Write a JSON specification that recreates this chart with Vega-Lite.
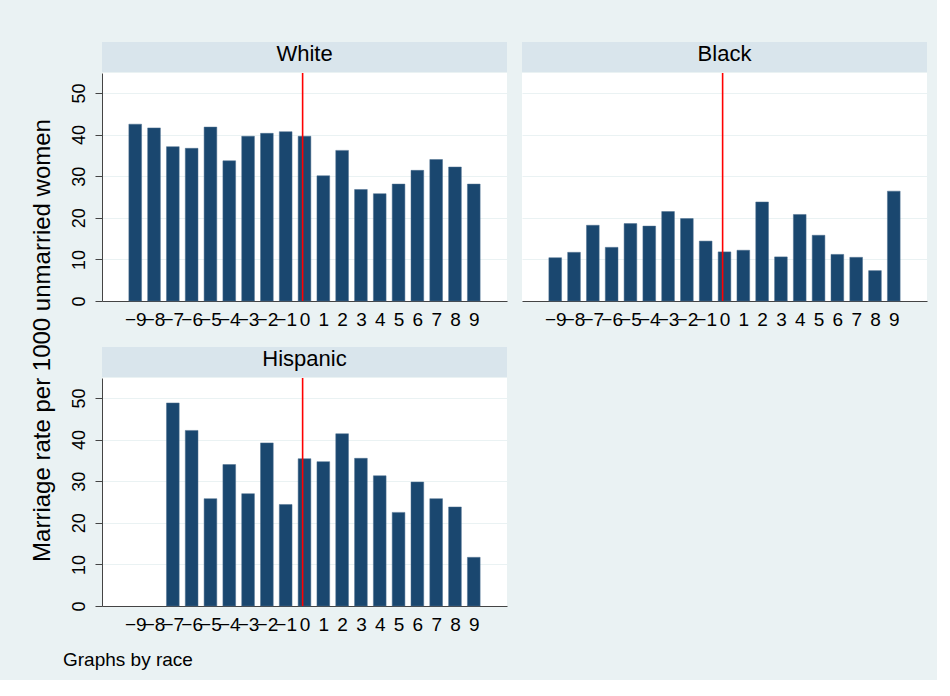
{
  "$schema": "https://vega.github.io/schema/vega-lite/v6.json",
  "background": "#eaf2f3",
  "padding": {"left": 30, "top": 42, "right": 10, "bottom": 10},
  "config": {
    "font": "Liberation Sans",
    "view": {"stroke": null},
    "concat": {"spacing": 0},
    "axis": {"labelColor": "black", "labelFont": "Liberation Sans", "labelOverlap": false},
    "axisX": {"labelOverlap": false, "labelBound": false, "labelFlush": false}
  },
  "datasets": {
    "rates": [
      {"race": "White", "t": -9, "rate": 42.5},
      {"race": "White", "t": -8, "rate": 41.6},
      {"race": "White", "t": -7, "rate": 37.1},
      {"race": "White", "t": -6, "rate": 36.7},
      {"race": "White", "t": -5, "rate": 41.8},
      {"race": "White", "t": -4, "rate": 33.7},
      {"race": "White", "t": -3, "rate": 39.6},
      {"race": "White", "t": -2, "rate": 40.3},
      {"race": "White", "t": -1, "rate": 40.7},
      {"race": "White", "t": 0, "rate": 39.6},
      {"race": "White", "t": 1, "rate": 30.1},
      {"race": "White", "t": 2, "rate": 36.2},
      {"race": "White", "t": 3, "rate": 26.8},
      {"race": "White", "t": 4, "rate": 25.8},
      {"race": "White", "t": 5, "rate": 28.1},
      {"race": "White", "t": 6, "rate": 31.4},
      {"race": "White", "t": 7, "rate": 34.0},
      {"race": "White", "t": 8, "rate": 32.2},
      {"race": "White", "t": 9, "rate": 28.1},
      {"race": "Black", "t": -9, "rate": 10.4},
      {"race": "Black", "t": -8, "rate": 11.7},
      {"race": "Black", "t": -7, "rate": 18.2},
      {"race": "Black", "t": -6, "rate": 12.9},
      {"race": "Black", "t": -5, "rate": 18.6},
      {"race": "Black", "t": -4, "rate": 18.0},
      {"race": "Black", "t": -3, "rate": 21.5},
      {"race": "Black", "t": -2, "rate": 19.8},
      {"race": "Black", "t": -1, "rate": 14.4},
      {"race": "Black", "t": 0, "rate": 11.8},
      {"race": "Black", "t": 1, "rate": 12.2},
      {"race": "Black", "t": 2, "rate": 23.8},
      {"race": "Black", "t": 3, "rate": 10.6},
      {"race": "Black", "t": 4, "rate": 20.8},
      {"race": "Black", "t": 5, "rate": 15.8},
      {"race": "Black", "t": 6, "rate": 11.2},
      {"race": "Black", "t": 7, "rate": 10.5},
      {"race": "Black", "t": 8, "rate": 7.3},
      {"race": "Black", "t": 9, "rate": 26.4},
      {"race": "Hispanic", "t": -7, "rate": 48.8},
      {"race": "Hispanic", "t": -6, "rate": 42.2},
      {"race": "Hispanic", "t": -5, "rate": 25.8},
      {"race": "Hispanic", "t": -4, "rate": 34.0},
      {"race": "Hispanic", "t": -3, "rate": 27.0},
      {"race": "Hispanic", "t": -2, "rate": 39.2},
      {"race": "Hispanic", "t": -1, "rate": 24.4},
      {"race": "Hispanic", "t": 0, "rate": 35.4},
      {"race": "Hispanic", "t": 1, "rate": 34.7},
      {"race": "Hispanic", "t": 2, "rate": 41.4},
      {"race": "Hispanic", "t": 3, "rate": 35.5},
      {"race": "Hispanic", "t": 4, "rate": 31.3},
      {"race": "Hispanic", "t": 5, "rate": 22.5},
      {"race": "Hispanic", "t": 6, "rate": 29.8},
      {"race": "Hispanic", "t": 7, "rate": 25.8},
      {"race": "Hispanic", "t": 8, "rate": 23.8},
      {"race": "Hispanic", "t": 9, "rate": 11.7}
    ],
    "cutoff": [{"t": -0.1}],
    "panels": [{"race": "White"}, {"race": "Black"}, {"race": "Hispanic"}],
    "ytitle": [{"label": "Marriage rate per 1000 unmarried women"}]
  },
  "title": {
    "text": "Graphs by race",
    "orient": "bottom",
    "anchor": "start",
    "dx": 32,
    "offset": 12,
    "fontSize": 19,
    "fontWeight": "normal",
    "color": "black",
    "font": "Liberation Sans"
  },
  "hconcat": [
    {
      "width": 24,
      "height": 597,
      "data": {"name": "ytitle"},
      "mark": {"type": "text", "angle": 270, "fontSize": 24, "color": "black"},
      "encoding": {"text": {"field": "label"}}
    },
    {
      "vconcat": [
        {
          "hconcat": [
            {
              "vconcat": [
                {
                  "width": 405,
                  "height": 30,
                  "view": {"fill": "#d9e5ec", "stroke": null},
                  "data": {"name": "panels"},
                  "transform": [{"filter": "datum.race === 'White'"}],
                  "mark": {"type": "text", "fontSize": 22, "color": "black", "dy": -3},
                  "encoding": {"text": {"field": "race"}}
                },
                {
                  "width": 405,
                  "height": 228,
                  "view": {"fill": "white", "stroke": null},
                  "layer": [
                    {
                      "data": {"name": "rates"},
                      "transform": [{"filter": "datum.race === 'White'"}],
                      "mark": {"type": "bar", "size": 12.7, "color": "#1a476f", "stroke": "#4d6f8e", "strokeWidth": 0.5},
                      "encoding": {
                        "x": {
                          "field": "t", "type": "quantitative",
                          "scale": {"domain": [-10.5, 10.5], "nice": false, "zero": false},
                          "axis": {"title": null, "values": [-9,-8,-7,-6,-5,-4,-3,-2,-1,0,1,2,3,4,5,6,7,8,9], "format": "d", "grid": false, "ticks": false, "tickSize": 0, "labelPadding": 9, "labelFontSize": 19, "labelOverlap": false, "labelBound": false, "labelFlush": false, "domainColor": "#444444"}
                        },
                        "y": {
                          "field": "rate", "type": "quantitative",
                          "scale": {"domain": [0, 54.8], "nice": false},
                          "axis": {"title": null, "values": [0,10,20,30,40,50], "grid": true, "gridColor": "#eaf2f3", "gridWidth": 1.2, "labelAngle": 270, "labelAlign": "center", "labelBaseline": "alphabetic", "labelFontSize": 18, "labelPadding": 11, "tickSize": 7, "tickColor": "#444444", "domainColor": "#444444"}
                        }
                      }
                    },
                    {
                      "data": {"name": "cutoff"},
                      "mark": {"type": "rule", "color": "#ff0000", "strokeWidth": 1.6},
                      "encoding": {"x": {"field": "t", "type": "quantitative", "axis": {"title": null, "values": [-9,-8,-7,-6,-5,-4,-3,-2,-1,0,1,2,3,4,5,6,7,8,9], "format": "d", "grid": false, "ticks": false, "tickSize": 0, "labelPadding": 9, "labelFontSize": 19, "labelOverlap": false, "labelBound": false, "labelFlush": false, "domainColor": "#444444"}}}
                    }
                  ]
                }
              ]
            },
            {
              "vconcat": [
                {
                  "width": 405,
                  "height": 30,
                  "view": {"fill": "#d9e5ec", "stroke": null},
                  "data": {"name": "panels"},
                  "transform": [{"filter": "datum.race === 'Black'"}],
                  "mark": {"type": "text", "fontSize": 22, "color": "black", "dy": -3},
                  "encoding": {"text": {"field": "race"}}
                },
                {
                  "width": 405,
                  "height": 228,
                  "view": {"fill": "white", "stroke": null},
                  "layer": [
                    {
                      "data": {"name": "rates"},
                      "transform": [{"filter": "datum.race === 'Black'"}],
                      "mark": {"type": "bar", "size": 12.7, "color": "#1a476f", "stroke": "#4d6f8e", "strokeWidth": 0.5},
                      "encoding": {
                        "x": {
                          "field": "t", "type": "quantitative",
                          "scale": {"domain": [-10.5, 10.5], "nice": false, "zero": false},
                          "axis": {"title": null, "values": [-9,-8,-7,-6,-5,-4,-3,-2,-1,0,1,2,3,4,5,6,7,8,9], "format": "d", "grid": false, "ticks": false, "tickSize": 0, "labelPadding": 9, "labelFontSize": 19, "labelOverlap": false, "labelBound": false, "labelFlush": false, "domainColor": "#444444"}
                        },
                        "y": {
                          "field": "rate", "type": "quantitative",
                          "scale": {"domain": [0, 54.8], "nice": false},
                          "axis": {"title": null, "values": [0,10,20,30,40,50], "grid": true, "gridColor": "#eaf2f3", "gridWidth": 1.2, "labels": false, "ticks": false, "domain": false}
                        }
                      }
                    },
                    {
                      "data": {"name": "cutoff"},
                      "mark": {"type": "rule", "color": "#ff0000", "strokeWidth": 1.6},
                      "encoding": {"x": {"field": "t", "type": "quantitative", "axis": {"title": null, "values": [-9,-8,-7,-6,-5,-4,-3,-2,-1,0,1,2,3,4,5,6,7,8,9], "format": "d", "grid": false, "ticks": false, "tickSize": 0, "labelPadding": 9, "labelFontSize": 19, "labelOverlap": false, "labelBound": false, "labelFlush": false, "domainColor": "#444444"}}}
                    }
                  ]
                }
              ]
            }
          ],
          "spacing": 15
        },
        {
          "vconcat": [
            {
              "width": 405,
              "height": 30,
              "view": {"fill": "#d9e5ec", "stroke": null},
              "data": {"name": "panels"},
              "transform": [{"filter": "datum.race === 'Hispanic'"}],
              "mark": {"type": "text", "fontSize": 22, "color": "black", "dy": -3},
              "encoding": {"text": {"field": "race"}}
            },
            {
              "width": 405,
              "height": 228,
              "view": {"fill": "white", "stroke": null},
              "layer": [
                {
                  "data": {"name": "rates"},
                  "transform": [{"filter": "datum.race === 'Hispanic'"}],
                  "mark": {"type": "bar", "size": 12.7, "color": "#1a476f", "stroke": "#4d6f8e", "strokeWidth": 0.5},
                  "encoding": {
                    "x": {
                      "field": "t", "type": "quantitative",
                      "scale": {"domain": [-10.5, 10.5], "nice": false, "zero": false},
                      "axis": {"title": null, "values": [-9,-8,-7,-6,-5,-4,-3,-2,-1,0,1,2,3,4,5,6,7,8,9], "format": "d", "grid": false, "ticks": false, "tickSize": 0, "labelPadding": 9, "labelFontSize": 19, "labelOverlap": false, "labelBound": false, "labelFlush": false, "domainColor": "#444444"}
                    },
                    "y": {
                      "field": "rate", "type": "quantitative",
                      "scale": {"domain": [0, 54.8], "nice": false},
                      "axis": {"title": null, "values": [0,10,20,30,40,50], "grid": true, "gridColor": "#eaf2f3", "gridWidth": 1.2, "labelAngle": 270, "labelAlign": "center", "labelBaseline": "alphabetic", "labelFontSize": 18, "labelPadding": 11, "tickSize": 7, "tickColor": "#444444", "domainColor": "#444444"}
                    }
                  }
                },
                {
                  "data": {"name": "cutoff"},
                  "mark": {"type": "rule", "color": "#ff0000", "strokeWidth": 1.6},
                  "encoding": {"x": {"field": "t", "type": "quantitative", "axis": {"title": null, "values": [-9,-8,-7,-6,-5,-4,-3,-2,-1,0,1,2,3,4,5,6,7,8,9], "format": "d", "grid": false, "ticks": false, "tickSize": 0, "labelPadding": 9, "labelFontSize": 19, "labelOverlap": false, "labelBound": false, "labelFlush": false, "domainColor": "#444444"}}}
                }
              ]
            }
          ]
        }
      ],
      "spacing": 18
    }
  ],
  "spacing": 14
}
